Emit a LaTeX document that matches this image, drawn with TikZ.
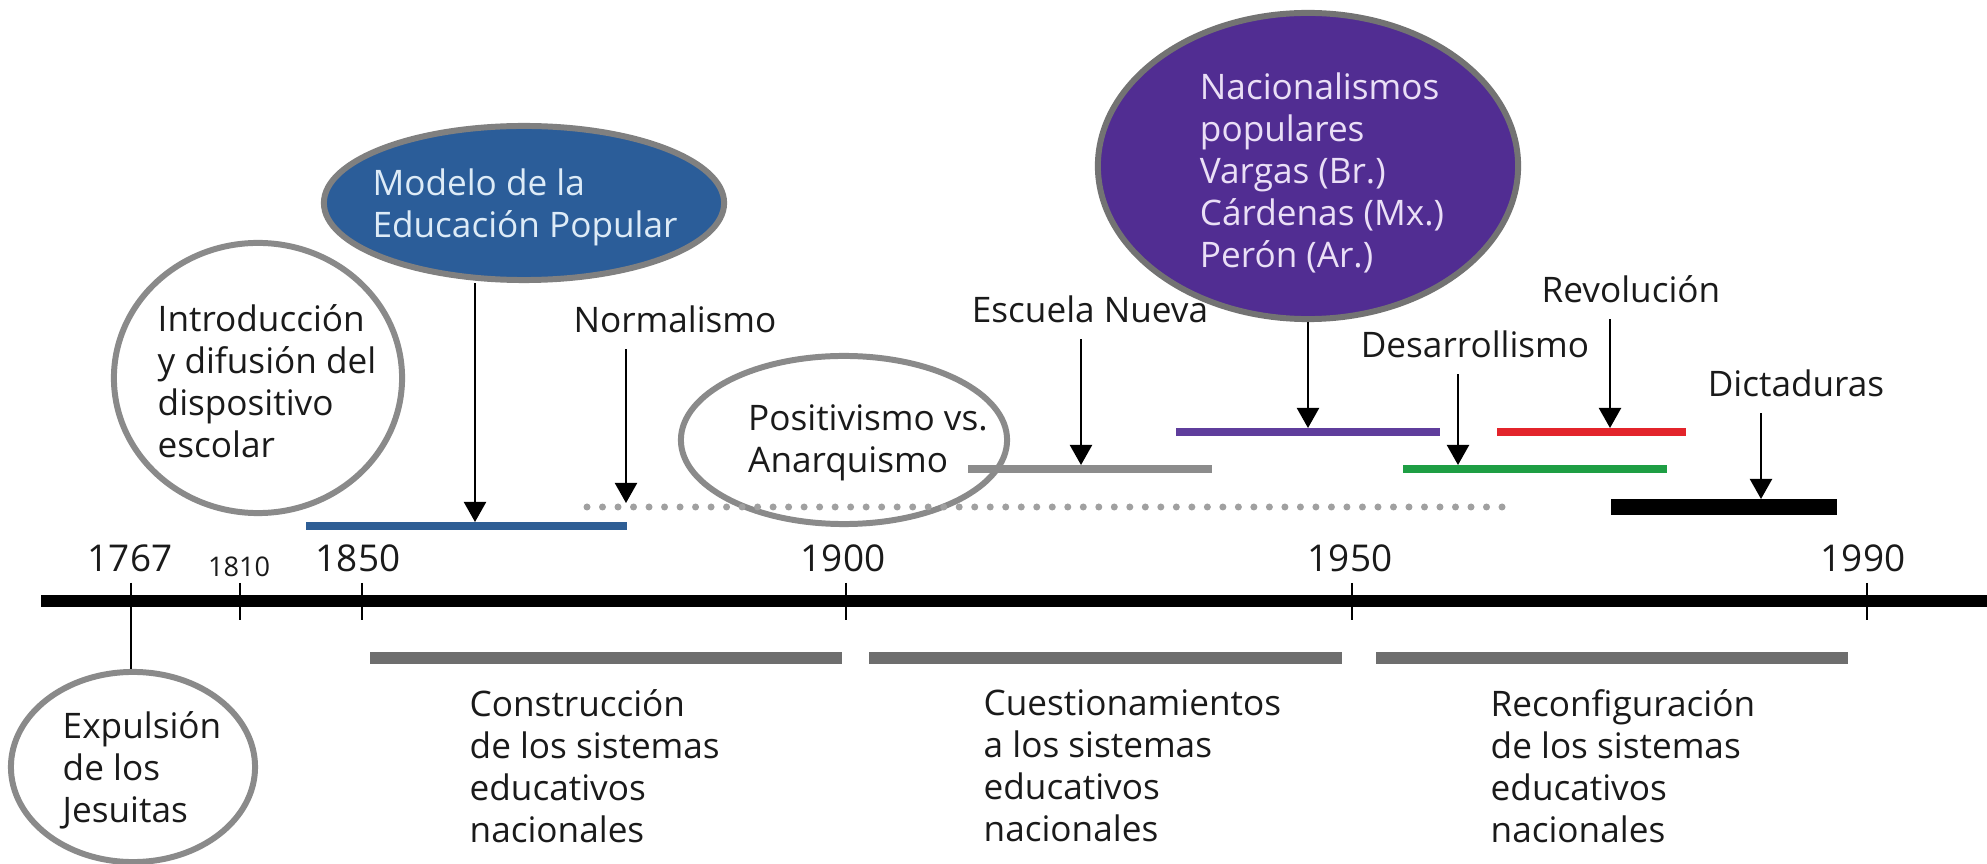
\documentclass[tikz,border=0pt]{standalone}
\usepackage{fontspec}
\setmainfont{Open Sans}
\usetikzlibrary{arrows.meta,shapes.geometric}
\definecolor{ink}{HTML}{1A1A1A}
\definecolor{ringgray}{HTML}{8A8A8A}
\definecolor{popblue}{HTML}{2B5D99}
\definecolor{popbluetxt}{HTML}{DDEBF7}
\definecolor{nacpurple}{HTML}{512D92}
\definecolor{nactxt}{HTML}{EADFF6}
\definecolor{barpurple}{HTML}{5F3D9C}
\definecolor{barred}{HTML}{E3242B}
\definecolor{bargreen}{HTML}{1E9E44}
\definecolor{barblue}{HTML}{2E5E95}
\definecolor{barlight}{HTML}{8C8C8C}
\definecolor{bardots}{HTML}{A0A0A0}
\definecolor{bardark}{HTML}{6E6E6E}

\begin{document}
\begin{tikzpicture}[x=0.01cm, y=-0.01cm,
    every node/.style={text=ink, font=\fontsize{10}{11.9}\selectfont},
    ring/.style={ellipse, draw=ringgray, line width=1.7pt, inner sep=0pt},
    blurb/.style={align=left, inner sep=0pt},
    tag/.style={anchor=base, inner sep=1.5mm},
    yr/.style={anchor=base, inner sep=0pt, font=\fontsize{10.5}{12}\selectfont},
    arr/.style={draw=black, line width=0.6pt, -{Triangle[length=2mm,width=2.2mm]}},
    bar/.style={line width=0.08cm}]
\useasboundingbox (0,0) rectangle (1987,864);

% axis and years
\draw[line width=0.11cm] (41,601) -- (1987,601);
\foreach \x/\yr in {131/1767, 240/1810, 362/1850, 846/1900, 1352/1950, 1867/1990}{
  \coordinate (t\yr) at (\x,583);
  \draw[line width=0.6pt] (\x,583) -- (\x,620);
}
\node[yr] (y1767) at (130,572) {1767};
\node[yr, font=\fontsize{7.7}{9}\selectfont] (y1810) at (239,577) {1810};
\node[yr] (y1850) at (358,572) {1850};
\node[yr] (y1900) at (843,572) {1900};
\node[yr] (y1950) at (1350,572) {1950};
\node[yr] (y1990) at (1863,572) {1990};

% periods below the axis
\draw[bar, bardark, line width=0.11cm] (370,658) -- (842,658);
\draw[bar, bardark, line width=0.11cm] (869,658) -- (1342,658);
\draw[bar, bardark, line width=0.11cm] (1376,658) -- (1848,658);
\node[blurb, anchor=north west] (construccion) at (469,689) {Construcción\\de los sistemas\\educativos\\nacionales};
\node[blurb, anchor=north west] (cuestion) at (983,689) {Cuestionamientos\\a los sistemas\\educativos\\nacionales};
\node[blurb, anchor=north west] (reconfig) at (1490,689) {Reconfiguración\\de los sistemas\\educativos\\nacionales};

% jesuitas
\node[ring, minimum width=2.44cm, minimum height=1.90cm] (expulsion) at (133,767) {};
\node[blurb] (expulsiontxt) at (142,770) {Expulsión\\de los\\Jesuitas};
\path[draw, line width=0.6pt] (t1767) edge (t1767 |- expulsion.north);

% left bubbles
\node[ring, minimum width=2.88cm, minimum height=2.70cm] (intro) at (258,378) {};
\node[blurb] (introtxt) at (267,381) {Introducción\\y difusión del\\dispositivo\\escolar};

\node[ring, fill=popblue, draw=gray, minimum width=4.00cm, minimum height=1.54cm] (modelo) at (524,203) {};
\node[blurb, text=popbluetxt] (modelotxt) at (525,207) {Modelo de la\\Educación Popular};

\node[ring, minimum width=3.26cm, minimum height=1.68cm] (positivismo) at (844,440) {};
\node[blurb] (positxt) at (868,443) {Positivismo vs.\\Anarquismo};

\node[ring, fill=nacpurple, draw=gray!90!black, minimum width=4.20cm, minimum height=3.06cm] (nacional) at (1308,166) {};
\node[blurb, text=nactxt] (nactxt) at (1322,173) {Nacionalismos\\populares\\Vargas (Br.)\\Cárdenas (Mx.)\\Perón (Ar.)};

% bars above the axis
\draw[bar, barblue] (306,526) -- (627,526);
\draw[bardots, line width=0.07cm, line cap=round, dash pattern=on 0pt off 0.155cm] (587,507) -- (1506,507);
\draw[bar, barlight] (968,469) -- (1212,469);
\draw[bar, barpurple] (1176,432) -- (1440,432);
\draw[bar, barred] (1497,432) -- (1686,432);
\draw[bar, bargreen] (1403,469) -- (1667,469);
\draw[bar, black, line width=0.16cm] (1611,507) -- (1837,507);

\coordinate (pmodelo) at (475,522);
\coordinate (pnormal) at (626,503);
\coordinate (pescuela) at (1081,465);
\coordinate (pnacional) at (1308,428);
\coordinate (pdesarr) at (1458,465);
\coordinate (prevol) at (1610,428);
\coordinate (pdicta) at (1761,499);

% labels
\node[tag] (normalismo) at (675,333) {Normalismo};
\node[tag] (escuela) at (1090,323) {Escuela Nueva};
\node[tag] (desarrollismo) at (1475,358) {Desarrollismo};
\node[tag] (revolucion) at (1631,303) {Revolución};
\node[tag] (dictaduras) at (1796,397) {Dictaduras};

% arrows
\path (pmodelo |- modelo.south) edge[arr] (pmodelo);
\path (pnormal |- normalismo.south) edge[arr] (pnormal);
\path (pescuela |- escuela.south) edge[arr] (pescuela);
\path (nacional.south) edge[arr] (pnacional);
\path (pdesarr |- desarrollismo.south) edge[arr] (pdesarr);
\path (prevol |- revolucion.south) edge[arr] (prevol);
\path (pdicta |- dictaduras.south) edge[arr] (pdicta);
\end{tikzpicture}
\end{document}
